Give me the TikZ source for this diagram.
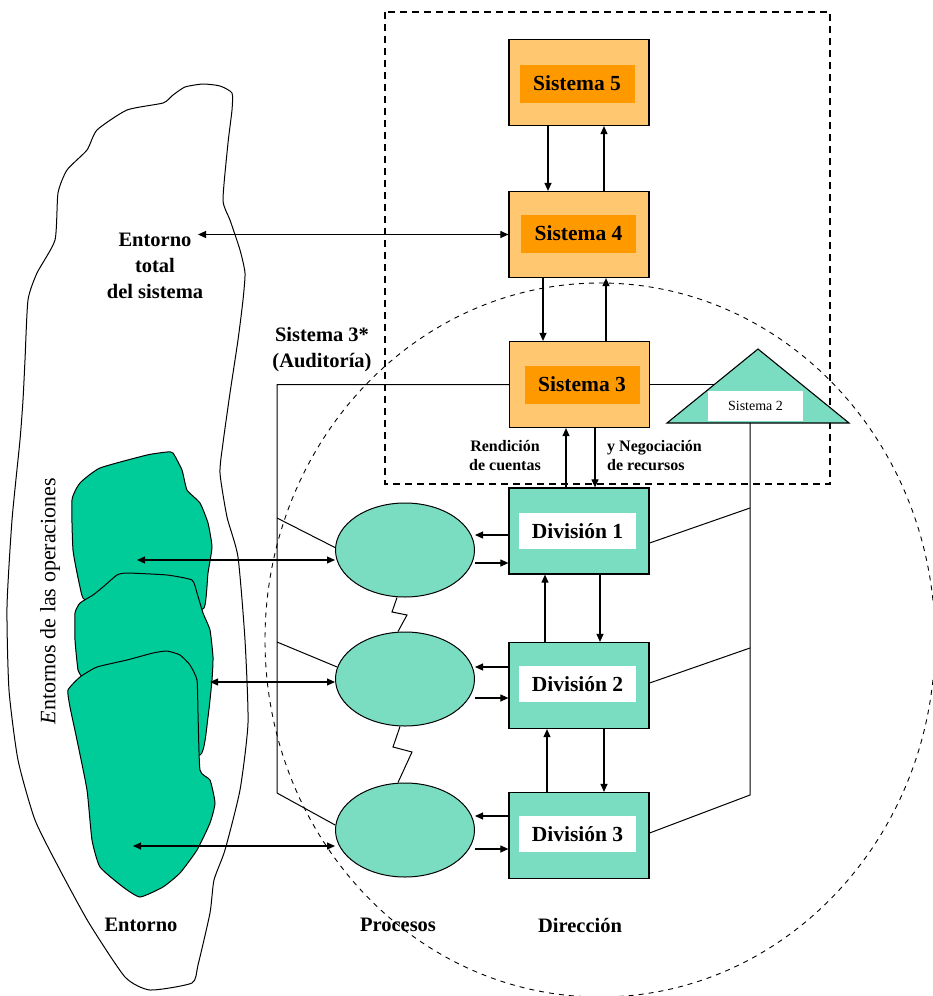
\documentclass[tikz,border=0pt]{standalone}
\usepackage{fontspec}
\setmainfont{Liberation Serif}
\usetikzlibrary{arrows.meta,calc,shapes.geometric}
\definecolor{orlight}{HTML}{FFC870}
\definecolor{ordark}{HTML}{FF9900}
\definecolor{tealfill}{HTML}{7ADDC2}
\definecolor{blobgreen}{HTML}{00CC99}
\begin{document}
\begin{tikzpicture}[x=1pt,y=-1pt,
  orbox/.style={draw, line width=1.2pt, fill=orlight, minimum width=140pt, minimum height=86pt, inner sep=0pt},
  orin/.style={fill=ordark, minimum width=115pt, minimum height=38pt, inner sep=0pt, font=\bfseries\fontsize{21.5}{24}\selectfont},
  divbox/.style={draw, line width=1.2pt, fill=tealfill, minimum width=140pt, minimum height=86pt, inner sep=0pt},
  divin/.style={fill=white, minimum width=117pt, minimum height=36pt, inner sep=0pt, font=\bfseries\fontsize{21.5}{24}\selectfont},
  proc/.style={draw, ellipse, line width=1pt, fill=tealfill, minimum width=139pt, minimum height=94pt, inner sep=0pt},
  lbl/.style={font=\bfseries\fontsize{20.5}{26}\selectfont, align=center, inner sep=0pt},
  smlbl/.style={font=\bfseries\fontsize{16}{19}\selectfont, inner sep=0pt},
  conn/.style={line width=1pt},
  arr/.style={-{Triangle[length=8pt,width=7pt]}, line width=1.1pt},
  darr/.style={{Triangle[length=8pt,width=7pt]}-{Triangle[length=8pt,width=7pt]}, line width=1.1pt},
  blobline/.style={line width=1pt, line join=round},
]
\useasboundingbox (0,0) rectangle (933,996);
\fill[white] (0,0) rectangle (933,996);

% dashed frame and dashed circle
\draw[line width=1.1pt, dash pattern=on 7pt off 5pt] (385,12) rectangle (830,484);
\draw[line width=0.9pt, dash pattern=on 5pt off 5pt] (600,640) ellipse [x radius=335, y radius=357];

% outer environment blob
\draw[blobline] plot[smooth cycle, tension=0.35] coordinates {
 (203,84) (220,86) (232,93) (232,110) (228,143) (223,200) (230,220) (240,250) (245,273)
 (243,300) (238,340) (230,393) (223,443) (220,473) (227,517) (238,557) (245,640) (248,723)
 (240,790) (225,850) (214,880) (210,913) (198,965) (192,983) (150,990) (125,977) (89,923)
 (60,870) (35,820) (18,760) (9,690) (7,607) (12,520) (20,440) (23,400) (25,360) (28,300)
 (37,273) (55,240) (58,193) (67,170) (87,150) (97,130) (127,110) (163,103) (173,95) (185,87)};

% green operational environments
\draw[blobline, fill=blobgreen] plot[smooth cycle, tension=0.3] coordinates {
 (147,455) (167,452) (173,453) (182,470) (187,490) (200,503) (208,523) (212,547) (208,573)
 (204,608) (180,612) (120,605) (85,600) (80,587) (73,550) (72,500) (80,483) (100,468)};
\draw[blobline, fill=blobgreen] plot[smooth cycle, tension=0.3] coordinates {
 (117,575) (127,573) (167,575) (192,580) (197,593) (203,613) (210,630) (213,657) (212,680)
 (208,717) (200,755) (150,730) (95,700) (82,677) (78,670) (75,640) (75,613) (80,603) (93,595) (103,587)};
\draw[blobline, fill=blobgreen] plot[smooth cycle, tension=0.3] coordinates {
 (153,653) (167,651) (180,655) (190,665) (197,680) (198,713) (200,770) (210,780) (215,803)
 (210,823) (197,850) (180,873) (163,887) (140,897) (123,887) (100,867) (92,840) (87,790)
 (77,740) (70,707) (68,690) (80,677) (97,667) (127,660)};

% rotated label
\node[rotate=90, font=\fontsize{22}{24}\selectfont, inner sep=0pt] (ops) at (50,601) {\textit{E}ntornos de las operaciones};

% system boxes
\node[orbox] (s5) at (579,82.5) {};
\node[orin] (s5i) at (577,83.5) {Sistema 5};
\node[orbox] (s4) at (579,234.5) {};
\node[orin] (s4i) at (578.5,233.5) {Sistema 4};
\node[orbox] (s3) at (579.5,384.5) {};
\node[orin] (s3i) at (582,384.5) {Sistema 3};

% Sistema 2 triangle
\coordinate (tA) at (758,349);
\coordinate (tL) at (667,423);
\coordinate (tR) at (849,423);
\draw[line width=1.1pt, fill=tealfill, line join=miter] (tA) -- (tR) -- (tL) -- cycle;
\node[fill=white, minimum width=95pt, minimum height=30pt, inner sep=0pt, font=\fontsize{14}{16}\selectfont] (s2) at (755.5,406) {Sistema 2};
\coordinate (s2b) at (750,423);

% divisions
\node[divbox] (d1) at (579,531) {};
\node[divin] (d1i) at (577.5,531) {División 1};
\node[divbox] (d2) at (579,685.5) {};
\node[divin] (d2i) at (577.5,684) {División 2};
\node[divbox] (d3) at (579,835.5) {};
\node[divin] (d3i) at (577.5,834) {División 3};

% processes
\node[proc] (e1) at (405,550) {};
\node[proc] (e2) at (405,679) {};
\node[proc] (e3) at (405,830) {};

% labels
\node[lbl] (entot) at (155,266) {Entorno\\total\\del sistema};
\node[lbl] (aud) at (322,350) {Sistema 3*\\(Auditoría)};
\node[smlbl, align=center] (rend) at (505,456) {Rendición\\de cuentas};
\node[smlbl, align=left, anchor=west] (neg) at (607,456) {y Negociación\\de recursos};
\node[lbl] (lent) at (141,925) {Entorno};
\node[lbl] (lproc) at (398,925) {Procesos};
\node[lbl] (ldir) at (580,925) {Dirección};

% vertical connections between systems
\draw[arr] ($(s5.south)+(-31,0)$) -- ($(s4.north)+(-31,0)$);
\draw[arr] ($(s4.north)+(25,0)$) -- ($(s5.south)+(25,0)$);
\draw[arr] ($(s4.south)+(-36,0)$) -- ($(s3.north)+(-36.5,0)$);
\draw[arr] ($(s3.north)+(26.5,0)$) -- ($(s4.south)+(27,0)$);
\draw[arr] ($(d1.north)+(-13,0)$) -- ($(s3.south)+(-13.5,0)$);
\draw[arr] ($(s3.south)+(15.5,0)$) -- ($(d1.north)+(16,0)$);
\draw[arr] ($(d1.south)+(21,0)$) -- ($(d2.north)+(21,0)$);
\draw[arr] ($(d2.north)+(-34,0)$) -- ($(d1.south)+(-34,0)$);
\draw[arr] ($(d2.south)+(25,0)$) -- ($(d3.north)+(25,0)$);
\draw[arr] ($(d3.north)+(-32,0)$) -- ($(d2.south)+(-32,0)$);

% environment total <-> Sistema 4
\coordinate (entarr) at (198,234.5);
\draw[darr] (entarr) -- (s4.west);

% Sistema 3* audit channel
\coordinate (audc) at (277,384.5);
\coordinate (audb) at (277,793);
\coordinate (aud1) at (277,518);
\coordinate (aud2) at (277,642);
\draw[conn] (s3.west) -- (audc) -- (audb) -- (e3.176);
\draw[conn] (aud1) -- (e1.178);
\draw[conn] (aud2) -- (e2.170);

% Sistema 3 <-> Sistema 2
\coordinate (t3) at (714.3,384.5);
\draw[conn] (s3.east) -- (t3);

% Sistema 2 channel
\coordinate (c1) at (750,508);
\coordinate (c2) at (750,648);
\coordinate (c3) at (750,795);
\draw[conn] (s2b) -- (c3) -- ($(d3.east)+(0,-2.5)$);
\draw[conn] (c1) -- ($(d1.east)+(0,12)$);
\draw[conn] (c2) -- ($(d2.east)+(0,-2.5)$);

% division <-> process arrows
\draw[arr] (d1.west |- 0,535) -- (e1.east |- 0,535);
\draw[arr] (e1.east |- 0,563) -- (d1.west |- 0,563);
\draw[arr] (d2.west |- 0,667) -- (e2.east |- 0,667);
\draw[arr] (e2.east |- 0,698) -- (d2.west |- 0,698);
\draw[arr] (d3.west |- 0,816) -- (e3.east |- 0,816);
\draw[arr] (e3.east |- 0,849) -- (d3.west |- 0,849);

% environment <-> process arrows
\coordinate (env1) at (137,560);
\coordinate (env2) at (210,682);
\coordinate (env3) at (133,846);
\draw[darr] (env1) -- (e1.west |- 0,560);
\draw[darr] (env2) -- (e2.west |- 0,682);
\draw[darr] (env3) -- (e3.west |- 0,846);

% zigzag links between processes
\draw[conn] ($(e1.south)+(-8,0)$) -- (392,612) -- (407,615) -- ($(e2.north)+(-7,0)$);
\draw[conn] ($(e2.south)+(-5,0)$) -- (393,747) -- (412,752) -- ($(e3.north)+(-7,0)$);
\end{tikzpicture}
\end{document}
